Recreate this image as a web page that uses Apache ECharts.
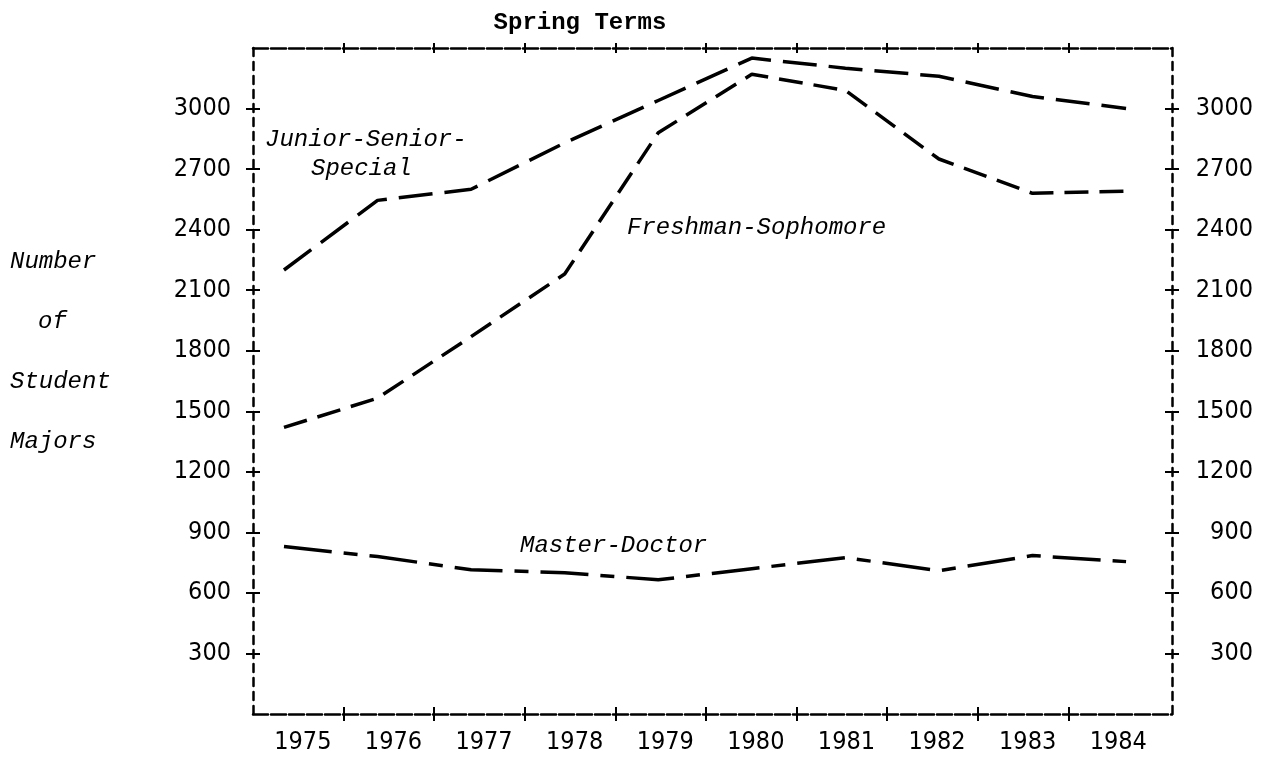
<!DOCTYPE html>
<html>
<head>
<meta charset="utf-8">
<script src="https://cdn.jsdelivr.net/npm/echarts@6/dist/echarts.min.js"></script>
<style>
  html, body { margin: 0; padding: 0; background: #fff; }
  #chart { width: 1271px; height: 757px; }
</style>
</head>
<body>
<div id="chart"></div>
<script>
// ---- data ----
var years = ['1975', '1976', '1977', '1978', '1979', '1980', '1981', '1982', '1983', '1984'];
var juniorSeniorSpecial = [2200, 2545, 2600, 2830, 3040, 3250, 3200, 3160, 3060, 3000];
var freshmanSophomore   = [1420, 1565, 1870, 2180, 2880, 3170, 3090, 2750, 2580, 2590];
var masterDoctor        = [830, 780, 715, 700, 665, 720, 775, 710, 785, 755];
var yTicks = [300, 600, 900, 1200, 1500, 1800, 2100, 2400, 2700, 3000];
var xTickBounds = [1, 2, 3, 4, 5, 6, 7, 8, 9];
var xLabelPos = [0.55, 1.55, 2.55, 3.55, 4.55, 5.55, 6.55, 7.55, 8.55, 9.55];

var numFont = '"DejaVu Sans Condensed", "DejaVu Sans", sans-serif';
var monoFont = '"Liberation Mono", "DejaVu Sans Mono", monospace';

function pairs(vals) {
  return vals.map(function (v, i) { return [Number(years[i]), v]; });
}

var chart = echarts.init(document.getElementById('chart'), null, { renderer: 'canvas' });

var dashV = { color: '#000', width: 2.5, type: [8, 6] };
var dashH = { color: '#000', width: 2.5, type: [15, 3] };
var tickStyle = { color: '#000', width: 2 };

function xTickAxis(pos, inside, showLine, showLabel, len) {
  return {
    type: 'value', position: pos, min: 0, max: 10.143,
    axisLine: { show: showLine, onZero: false, lineStyle: dashH },
    axisTick: { show: true, inside: inside, length: len, customValues: xTickBounds, lineStyle: tickStyle },
    axisLabel: showLabel ? {
      show: true, customValues: xLabelPos, margin: 16,
      fontFamily: numFont, fontSize: 25, color: '#000',
      formatter: function (v) { return years[Math.round(v - 0.55)]; }
    } : { show: false },
    splitLine: { show: false }
  };
}
function yTickAxis(pos, inside, showLine, showLabel) {
  var o = {
    type: 'value', position: pos, min: 0, max: 3300,
    axisLine: { show: showLine, onZero: false, lineStyle: dashV },
    axisTick: { show: true, inside: inside, length: 7, customValues: yTicks, lineStyle: tickStyle },
    axisLabel: { show: false },
    splitLine: { show: false }
  };
  if (showLabel) {
    o.axisLabel = {
      show: true, customValues: yTicks, fontFamily: numFont, fontSize: 25, color: '#000',
      margin: pos === 'left' ? 22 : 81, align: 'right',
      formatter: function (v) { return String(v); }
    };
  }
  return o;
}

var option = {
  backgroundColor: '#fff',
  animation: false,
  title: {
    text: 'Spring Terms', left: 575, top: 6, textAlign: 'center',
    textStyle: { fontFamily: monoFont, fontSize: 24, fontWeight: 'bold', color: '#000' }
  },
  grid: { left: 253, right: 99, top: 48, bottom: 43, containLabel: false },
  xAxis: [
    xTickAxis('bottom', false, true, true, 7),
    xTickAxis('bottom', true, false, false, 7),
    xTickAxis('top', false, true, false, 5),
    xTickAxis('top', true, false, false, 5),
    { type: 'value', position: 'bottom', show: false, min: 1974.669, max: 1984.491 }
  ],
  yAxis: [
    yTickAxis('left', false, true, true),
    yTickAxis('left', true, false, false),
    yTickAxis('right', false, true, true),
    yTickAxis('right', true, false, false)
  ],
  series: [
    {
      name: 'Junior-Senior-Special', type: 'line', xAxisIndex: 4, yAxisIndex: 0,
      data: pairs(juniorSeniorSpecial), symbol: 'none',
      lineStyle: { color: '#000', width: 3.5, type: [34, 12], cap: 'butt' }
    },
    {
      name: 'Freshman-Sophomore', type: 'line', xAxisIndex: 4, yAxisIndex: 0,
      data: pairs(freshmanSophomore), symbol: 'none',
      lineStyle: { color: '#000', width: 3.5, type: [24, 11], cap: 'butt' }
    },
    {
      name: 'Master-Doctor', type: 'line', xAxisIndex: 4, yAxisIndex: 0,
      data: pairs(masterDoctor), symbol: 'none',
      lineStyle: { color: '#000', width: 3.5, type: [48, 12, 14, 12], cap: 'butt' }
    }
  ],
  graphic: [
    { type: 'text', left: 265, top: 128, style: { text: 'Junior-Senior-', font: 'italic 24px ' + monoFont, fill: '#000' } },
    { type: 'text', left: 311, top: 157, style: { text: 'Special', font: 'italic 24px ' + monoFont, fill: '#000' } },
    { type: 'text', left: 627, top: 216, style: { text: 'Freshman-Sophomore', font: 'italic 24px ' + monoFont, fill: '#000' } },
    { type: 'text', left: 520, top: 534, style: { text: 'Master-Doctor', font: 'italic 24px ' + monoFont, fill: '#000' } },
    { type: 'text', left: 10, top: 250, style: { text: 'Number', font: 'italic 24px ' + monoFont, fill: '#000' } },
    { type: 'text', left: 38, top: 310, style: { text: 'of', font: 'italic 24px ' + monoFont, fill: '#000' } },
    { type: 'text', left: 10, top: 370, style: { text: 'Student', font: 'italic 24px ' + monoFont, fill: '#000' } },
    { type: 'text', left: 10, top: 430, style: { text: 'Majors', font: 'italic 24px ' + monoFont, fill: '#000' } }
  ]
};
chart.setOption(option);
</script>
</body>
</html>
